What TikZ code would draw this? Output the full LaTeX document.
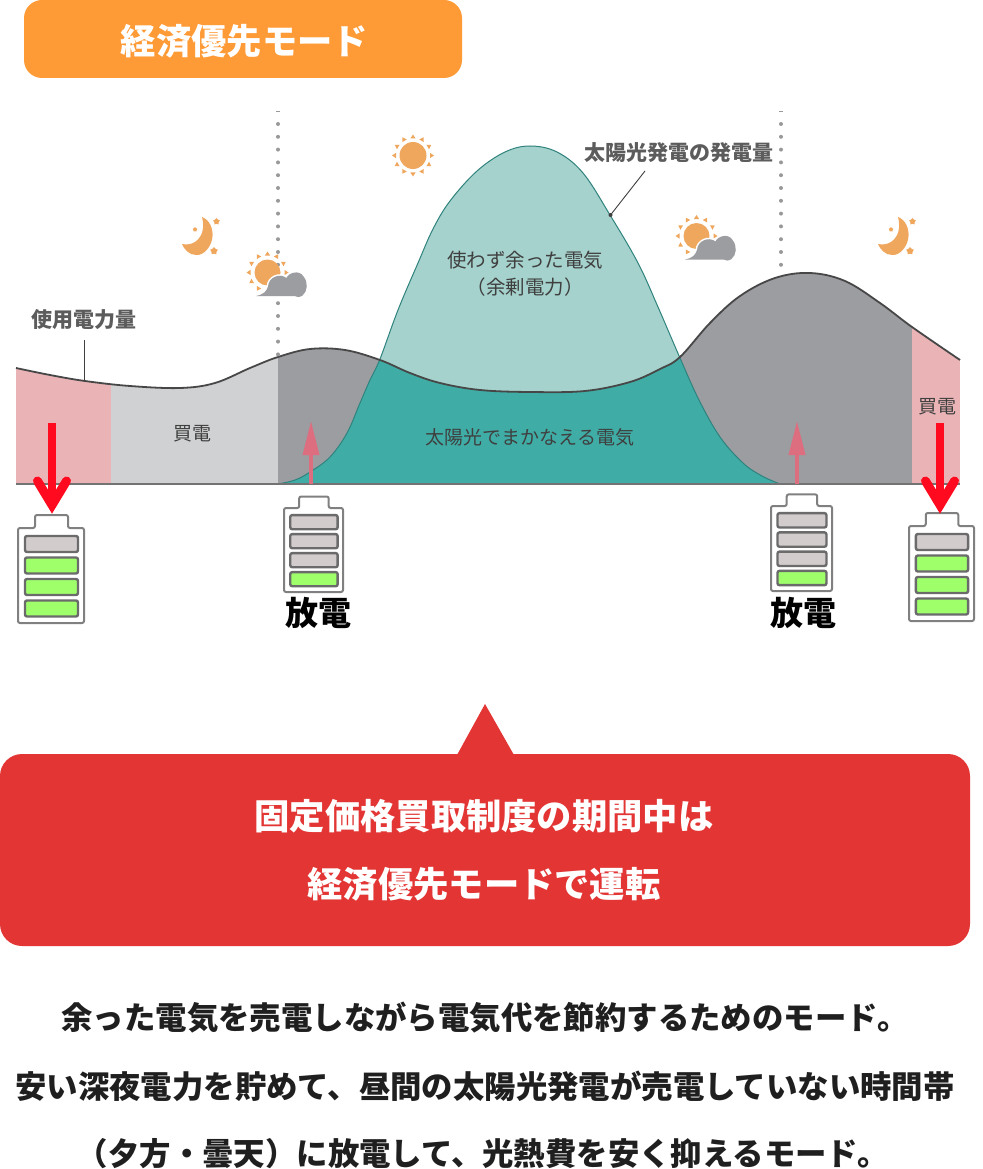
\documentclass[tikz,border=0pt]{standalone}
\usepackage{fontspec}
\setmainfont{Noto Sans CJK JP}
\usetikzlibrary{arrows.meta,shapes.geometric}
\definecolor{badgeorange}{HTML}{FF9B36}
\definecolor{boxred}{HTML}{E23534}
\definecolor{buypink}{HTML}{EAB4B7}
\definecolor{buygrey}{HTML}{D0D1D3}
\definecolor{loadgrey}{HTML}{9C9DA1}
\definecolor{tealpale}{HTML}{A5D2CC}
\definecolor{tealdeep}{HTML}{3FADA6}
\definecolor{iconorange}{HTML}{EFA75E}
\definecolor{arrowred}{HTML}{FF0A1E}
\definecolor{arrowpink}{HTML}{DC6E80}
\definecolor{cellgrey}{HTML}{D2CCCC}
\definecolor{cellgreen}{HTML}{9FFF6B}
\definecolor{labelgrey}{HTML}{3F3F3F}
\tikzset{
	headtext/.style={font=\bfseries\fontsize{35.3}{35.3}\selectfont, text=white},
	bodytext/.style={font=\bfseries\fontsize{31.4}{31.4}\selectfont, text=black!88},
	chargetext/.style={font=\bfseries\fontsize{33}{33}\selectfont, text=black},
	titletext/.style={font=\bfseries\fontsize{21}{21}\selectfont, text=labelgrey!85},
	charttext/.style={font=\fontsize{19.5}{19.5}\selectfont, text=labelgrey},
	redarrow/.style={draw=arrowred, line width=8pt},
	pinkarrow/.style={draw=arrowpink, line width=3.5pt, -{Triangle[width=16pt,length=34pt]}},
	leader/.style={draw=labelgrey, line width=0.9pt},
	dotline/.style={draw=black!40, line width=4pt, line cap=round, dash pattern=on 0pt off 12.8pt},
	batterycell/.style={draw=black!58, line width=2.4pt, rounded corners=2pt}
}
\def\loadto{-- plot[smooth,tension=0.6] coordinates {(16,368) (50,375) (85,381) (130,386) (180,388) (215,383) (250,368) (278,357) (310,349) (345,350) (380,360) (410,373) (440,383) (480,390) (530,392) (585,391) (630,382) (660,369) (680,357) (710,323) (740,296) (775,278) (810,273) (845,281) (880,303) (912,327) (960,360)}}
\def\solarto{-- plot[smooth,tension=0.6] coordinates {(278,484) (295,480) (310,472) (330,457) (347,433) (360,403) (370,380) (380,359) (398,310) (418,263) (433,229) (450,201) (477,171) (505,152) (530,146) (557,152) (583,173) (610,215) (638,263) (658,307) (680,358) (699,400) (720,437) (743,463) (762,476) (780,484)}}
\def\sunrays(#1,#2){
	\foreach \ang in {0,30,...,330}
		\fill[iconorange, shift={(#1,#2)}, rotate=\ang] (17,-2.6) -- (17,2.6) -- (21,0) -- cycle;
}
\def\sunicon(#1,#2){
	\fill[iconorange] (#1,#2) circle (13.5);
	\sunrays(#1,#2)
}
\def\cloudsun(#1,#2){
	\fill[iconorange] (#1,#2) circle (13);
	\sunrays(#1,#2)
	\begin{scope}[shift={(#1,#2)}]
		\draw[white, line width=3pt, fill=loadgrey] (-11.5,23.5) .. controls (-4,22) and (-1,19) .. (0.5,14) .. controls (1,5) and (12,0) .. (19,5.5) .. controls (21,0) and (32,-3) .. (36,4) .. controls (41,10) and (40,19) .. (35,23) .. controls (32,25) and (29,25) .. (27,23.5) -- cycle;
		\fill[loadgrey] (-11.5,23.5) .. controls (-4,22) and (-1,19) .. (0.5,14) .. controls (1,5) and (12,0) .. (19,5.5) .. controls (21,0) and (32,-3) .. (36,4) .. controls (41,10) and (40,19) .. (35,23) .. controls (32,25) and (29,25) .. (27,23.5) -- cycle;
	\end{scope}
}
\def\moonicon(#1,#2){
	\begin{scope}[shift={(#1,#2)}]
		\fill[iconorange] (0,0) .. controls (8,3) and (11,12) .. (10.5,19) .. controls (10,30) and (1,39) .. (-6,38) .. controls (-13,38) and (-18,32) .. (-20,27) .. controls (-8,30) and (5,20) .. (0,0) -- cycle;
		\node[star, star points=5, fill=iconorange, inner sep=0pt, minimum size=7pt] (moonstarA) at (14.5,4.5) {};
		\node[star, star points=5, fill=iconorange, inner sep=0pt, minimum size=8pt] (moonstarB) at (12,34) {};
		\node[star, star points=5, fill=iconorange, inner sep=0pt, minimum size=5pt] (moonstarC) at (-7,12.5) {};
	\end{scope}
}
% left, top of body, width, height, number of green cells
\def\battery(#1,#2,#3,#4,#5){
	\begin{scope}[shift={(#1,#2)}, xscale=#3/66, yscale=#4/95]
		\draw[draw=black!50, line width=2pt, fill=white, rounded corners=2pt] (0,0) -- (17,0) -- (17,-13) -- (50,-13) -- (50,0) -- (66,0) -- (66,95) -- (0,95) -- cycle;
		\foreach \c in {0,...,3} {
			\ifnum\c<\numexpr4-#5\relax
				\draw[batterycell, fill=cellgrey] (7,{8+\c*21.5}) rectangle (60,{24+\c*21.5});
			\else
				\draw[batterycell, fill=cellgreen] (7,{8+\c*21.5}) rectangle (60,{24+\c*21.5});
			\fi
		}
	\end{scope}
}

\begin{document}
\begin{tikzpicture}[x=1pt, y=-1pt]
	\useasboundingbox (0,0) rectangle (982,1169);
	\fill[white] (0,0) rectangle (982,1169);
	%%%%% BADGE %%%%%
	\fill[badgeorange, rounded corners=18pt] (24,0) rectangle (462,78);
	\node[headtext] (badge) at (244.5,41) {経済優先モード};
	%%%%% AREAS %%%%%
	\begin{scope}
		\clip (16,484) \loadto -- (960,484) -- cycle;
		\fill[buypink] (16,300) rectangle (111,484);
		\fill[buygrey] (111,300) rectangle (278,484);
		\fill[loadgrey] (278,250) rectangle (912,484);
		\fill[buypink] (912,300) rectangle (960,484);
	\end{scope}
	\fill[tealpale] (278,484) \solarto -- cycle;
	\begin{scope}
		\clip (16,484) \loadto -- (960,484) -- cycle;
		\fill[tealdeep] (278,484) \solarto -- cycle;
	\end{scope}
	\draw[draw=tealdeep!75!black, line width=1pt] (278,484) \solarto;
	\draw[draw=black!72, line width=1.8pt] (16,368) \loadto;
	\draw[draw=black!55, line width=1.5pt] (16,484) -- (960,484);
	%%%%% DOTTED LINES %%%%%
	\draw[dotline] (278,124) -- (278,355);
	\draw[dotline] (781,124) -- (781,276);
	\foreach \xx in {278,781}
		\draw[draw=black!40, line width=1pt] (\xx-2,112) -- (\xx+2,112);
	%%%%% ICONS %%%%%
	\moonicon(202,217)
	\moonicon(898,217)
	\sunicon(413,155.5)
	\cloudsun(267.5,272.5)
	\cloudsun(696.5,236)
	%%%%% CHART LABELS %%%%%
	\node[titletext] (loadlabel) at (84,320) {使用電力量};
	\node[titletext] (solarlabel) at (679,153) {太陽光発電の発電量};
	\node[charttext] (spare) at (525,260) {使わず余った電気};
	\node[charttext] (sparesub) at (525,287) {（余剰電力）};
	\node[charttext, font=\fontsize{19}{19}\selectfont] (solarused) at (530,437) {太陽光でまかなえる電気};
	\node[charttext, font=\fontsize{19}{19}\selectfont] (buyA) at (192,434) {買電};
	\node[charttext, font=\fontsize{19}{19}\selectfont] (buyB) at (937,407) {買電};
	\coordinate (loadpoint) at (84.5,381);
	\coordinate (solarpoint) at (610.5,215);
	\coordinate (solarfoot) at (645,171);
	\draw[leader] (84.5,340) -- (loadpoint);
	\draw[leader] (solarfoot) -- (solarpoint);
	\fill[labelgrey] (solarpoint) circle (2);
	%%%%% BATTERIES %%%%%
	\battery(18,528,66,95,3)
	\battery(284,508,59,84,1)
	\battery(771,506,61,85,1)
	\battery(909,526,65,95,3)
	%%%%% ARROWS %%%%%
	\coordinate (dropA) at (52,423);
	\coordinate (dropAtip) at (52,505);
	\coordinate (dropB) at (940,423);
	\coordinate (dropBtip) at (940,505);
	\draw[redarrow] (dropA) -- (dropAtip);
	\draw[redarrow, line width=9pt, line cap=round] (37.5,481) -- (dropAtip) -- (66.5,481);
	\draw[redarrow] (dropB) -- (dropBtip);
	\draw[redarrow, line width=9pt, line cap=round] (925.5,481) -- (dropBtip) -- (954.5,481);
	\coordinate (chargeA) at (311,484);
	\coordinate (chargeAtip) at (311,421);
	\coordinate (chargeB) at (797,484);
	\coordinate (chargeBtip) at (797,421);
	\draw[pinkarrow] (chargeA) -- (chargeAtip);
	\draw[pinkarrow] (chargeB) -- (chargeBtip);
	\node[chargetext] (dischargeA) at (318,613) {放電};
	\node[chargetext] (dischargeB) at (803,613) {放電};
	%%%%% CALLOUT %%%%%
	\fill[boxred] (457,755) -- (485,704) -- (514,755) -- cycle;
	\fill[boxred, rounded corners=22pt] (0,754) rectangle (970,946);
	\node[headtext] (calloutA) at (484,816) {固定価格買取制度の期間中は};
	\node[headtext] (calloutB) at (484,884) {経済優先モードで運転};
	%%%%% BODY %%%%%
	\node[bodytext] (bodyA) at (485,1018) {余った電気を売電しながら電気代を節約するためのモード。};
	\node[bodytext] (bodyB) at (485,1086) {安い深夜電力を貯めて、昼間の太陽光発電が売電していない時間帯};
	\node[bodytext] (bodyC) at (483,1154) {（夕方・曇天）に放電して、光熱費を安く抑えるモード。};
\end{tikzpicture}
\end{document}
